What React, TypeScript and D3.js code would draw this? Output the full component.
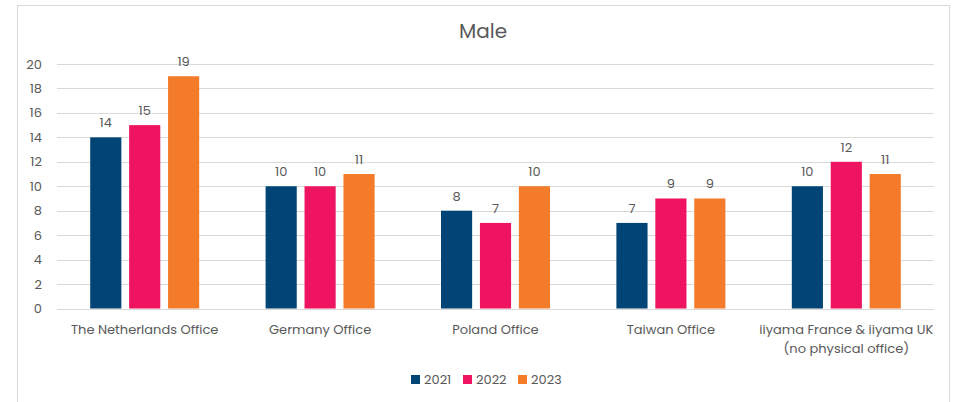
import React from "react";
import * as d3 from "d3";

const categories = [
  ["The Netherlands Office"],
  ["Germany Office"],
  ["Poland Office"],
  ["Taiwan Office"],
  ["iiyama France & iiyama UK", "(no physical office)"],
];
const seriesNames = ["2021", "2022", "2023"];
const values2021 = [14, 10, 8, 7, 10];
const values2022 = [15, 10, 7, 9, 12];
const values2023 = [19, 11, 10, 9, 11];
const yTicks = [0, 2, 4, 6, 8, 10, 12, 14, 16, 18, 20];
const colors = ["#004576", "#EE1460", "#F47B2A"];
const title = "Male";

const W = 955;
const H = 402;
const font = "Poppins, 'Open Sans', Lato, sans-serif";
const textColor = "#595959";

export default function App() {
  const series = [values2021, values2022, values2023];
  const left = 57, right = 934, top = 64, bottom = 308.5;
  const x0 = d3.scaleBand<number>().domain(d3.range(categories.length)).range([left, right]).paddingInner(0).paddingOuter(0);
  const groupW = 109;
  const x1 = d3.scaleBand<number>().domain(d3.range(3)).range([0, groupW]).paddingInner(0.2).paddingOuter(0);
  const y = d3.scaleLinear().domain([0, 20]).range([bottom, top]);

  const legendX = [411, 463, 518];

  return (
    <svg width={W} height={H} style={{ position: "absolute", left: 0, top: 0, fontFamily: font }}>
      <rect x={0} y={0} width={W} height={H} fill="#fff" />
      <rect x={17.5} y={5.5} width={932} height={H} fill="#fff" stroke="#d9d9d9" strokeWidth={1} />
      <text x={483} y={38} textAnchor="middle" fontSize={20} fill={textColor}>{title}</text>
      {yTicks.map((t) => (
        <g key={t}>
          <line x1={left} x2={right} y1={Math.round(y(t)) + 0.5} y2={Math.round(y(t)) + 0.5} stroke="#d9d9d9" strokeWidth={1} />
          <text x={42} y={y(t) + 4.5} textAnchor="end" fontSize={13} fill={textColor}>{t}</text>
        </g>
      ))}
      {categories.map((c, i) => {
        const gx = (x0(i) as number) + x0.bandwidth() / 2 - groupW / 2;
        return (
          <g key={i}>
            {series.map((s, j) => {
              const bx = gx + (x1(j) as number);
              const bw = x1.bandwidth();
              return (
                <g key={j}>
                  <rect x={bx} y={y(s[i])} width={bw} height={y(0) - y(s[i])} fill={colors[j]} />
                  <text x={bx + bw / 2} y={y(s[i]) - 10} textAnchor="middle" fontSize={13} fill={textColor}>{s[i]}</text>
                </g>
              );
            })}
            {c.map((line, k) => (
              <text key={k} x={(x0(i) as number) + x0.bandwidth() / 2} y={334 + k * 19} textAnchor="middle" fontSize={13} fill={textColor}>{line}</text>
            ))}
          </g>
        );
      })}
      {seriesNames.map((n, j) => (
        <g key={n}>
          <rect x={legendX[j]} y={375} width={9} height={9} fill={colors[j]} />
          <text x={legendX[j] + 13} y={384} fontSize={13} fill={textColor}>{n}</text>
        </g>
      ))}
    </svg>
  );
}
